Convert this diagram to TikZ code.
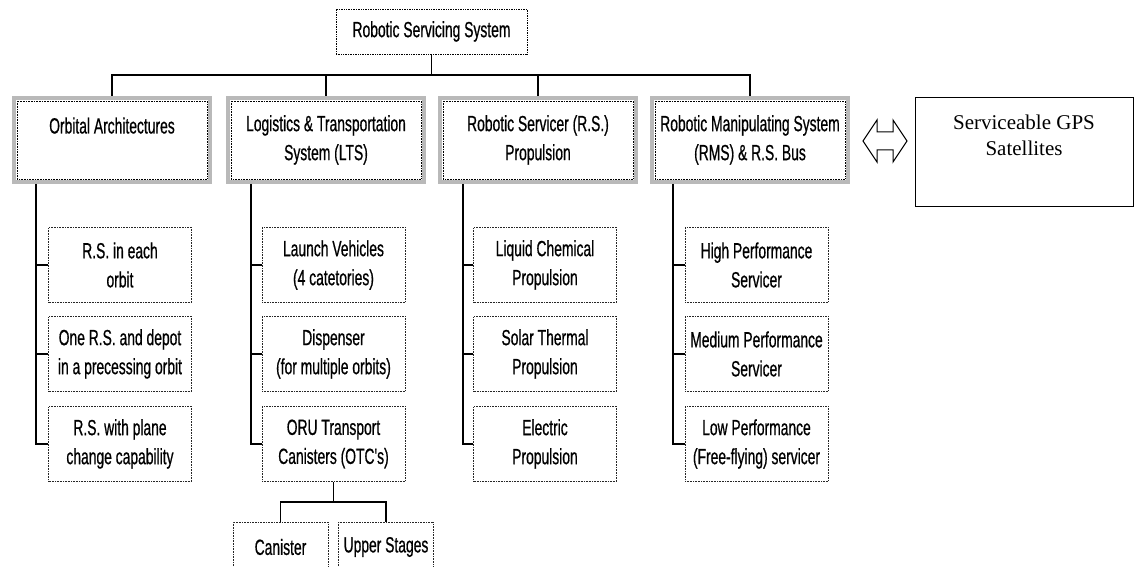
\documentclass[tikz,border=0pt]{standalone}
\usepackage{fontspec}
\setmainfont{Liberation Sans}
\newfontfamily\narrowfont[FakeStretch=0.63,FakeBold=0.6]{Liberation Sans}
\newfontfamily\seriffont{Liberation Serif}
\begin{document}
\begin{tikzpicture}[x=1pt,y=1pt,
  lab/.style={font=\narrowfont\fontsize{22}{29}\selectfont, align=center, inner sep=0pt},
  topbox/.style={lab, draw=black, densely dotted, line width=0.7pt, minimum width=191pt, minimum height=45pt},
  mainbox/.style={lab, draw=gray!55, line width=4pt, minimum width=196pt, minimum height=84pt},
  subbox/.style={lab, draw=black!85, densely dotted, line width=0.6pt, minimum width=143pt, minimum height=75pt},
  leafbox/.style={lab, draw=black!85, densely dotted, line width=0.6pt, minimum width=95pt, minimum height=50pt},
  gpsbox/.style={inner sep=0pt, draw=black, line width=0.9pt, minimum width=218pt, minimum height=109pt},
  gpstext/.style={font=\seriffont\fontsize{21}{26}\selectfont, align=center, inner sep=0pt, anchor=north, yshift=-18pt},
  conn/.style={draw=black, line width=1.3pt},
  innerframe/.style={draw=black, densely dotted, line width=0.6pt},
  hollowarrow/.style={draw=black, line width=1pt, line join=miter}
]
\clip (0,0) rectangle (1135,567);
\fill[white] (0,0) rectangle (1135,567);

% root and level 1
\node[topbox] (root) at (431.5,535.5) {Robotic Servicing System};
\node[mainbox] (oa)  at (112,427) {Orbital Architectures\\\mbox{}};
\node[mainbox] (lts) at (326,427) {Logistics \& Transportation\\System (LTS)};
\node[mainbox] (rsp) at (538,427) {Robotic Servicer (R.S.)\\Propulsion};
\node[mainbox] (rms) at (750,427) {Robotic Manipulating System\\(RMS) \& R.S. Bus};
\foreach \n in {oa,lts,rsp,rms}{
  \draw[innerframe] ([shift={(5,-5)}]\n.north west) rectangle ([shift={(-5,5)}]\n.south east);
}

\node[gpsbox, label={[gpstext]north:Serviceable GPS\\Satellites}] (gps) at (1024,415.5) {};

% bus
\coordinate (bus) at (431.5,492);
\draw[conn] (root.south) -- (bus);
\draw[conn] (oa.north) |- (bus) -| (rms.north);
\draw[conn] (lts.north) -- (lts.north |- bus);
\draw[conn] (rsp.north) -- (rsp.north |- bus);

% hollow double arrow between RMS and GPS
\coordinate (arr) at (885,426);
\draw[hollowarrow] ([shift={(-22,0)}]arr) -- ([shift={(-8,21)}]arr) -- ([shift={(-8,9)}]arr)
  -- ([shift={(8,9)}]arr) -- ([shift={(8,21)}]arr) -- ([shift={(22,0)}]arr)
  -- ([shift={(8,-21)}]arr) -- ([shift={(8,-9)}]arr) -- ([shift={(-8,-9)}]arr)
  -- ([shift={(-8,-21)}]arr) -- cycle;

% level 2: orbital architectures
\node[subbox] (oa1) at (120,302) {R.S. in each\\orbit};
\node[subbox] (oa2) at (120,213) {One R.S. and depot\\in a precessing orbit};
\node[subbox] (oa3) at (120,123) {R.S. with plane\\change capability};
% level 2: LTS
\node[subbox] (lt1) at (333.5,302) {Launch Vehicles\\(4 catetories)};
\node[subbox] (lt2) at (333.5,213) {Dispenser\\(for multiple orbits)};
\node[subbox] (lt3) at (333.5,123) {ORU Transport\\Canisters (OTC's)};
% level 2: propulsion
\node[subbox] (rs1) at (545,302) {Liquid Chemical\\Propulsion};
\node[subbox] (rs2) at (545,213) {Solar Thermal\\Propulsion};
\node[subbox] (rs3) at (545,123) {Electric\\Propulsion};
% level 2: RMS
\node[subbox] (rm1) at (756.5,302) {High Performance\\Servicer};
\node[subbox] (rm2) at (756.5,213) {Medium Performance\\Servicer};
\node[subbox] (rm3) at (756.5,123) {Low Performance\\(Free-flying) servicer};

% brackets
\coordinate (oab) at (36,383);
\coordinate (ltb) at (251,383);
\coordinate (rsb) at (463,383);
\coordinate (rmb) at (673,383);
\foreach \b/\c in {oab/oa,ltb/lt,rsb/rs,rmb/rm}{
  \draw[conn] (\b) |- (\c3.west);
  \draw[conn] (\c1.west) -- (\c1.west -| \b);
  \draw[conn] (\c2.west) -- (\c2.west -| \b);
}

% level 3
\node[leafbox] (can) at (280.5,20) {Canister};
\node[leafbox] (ups) at (386,20) {Upper Stages};
\coordinate (split) at (333.5,65);
\draw[conn] (lt3.south) -- (split);
\draw[conn] (can.north) |- (split) -| (ups.north);
\end{tikzpicture}
\end{document}
